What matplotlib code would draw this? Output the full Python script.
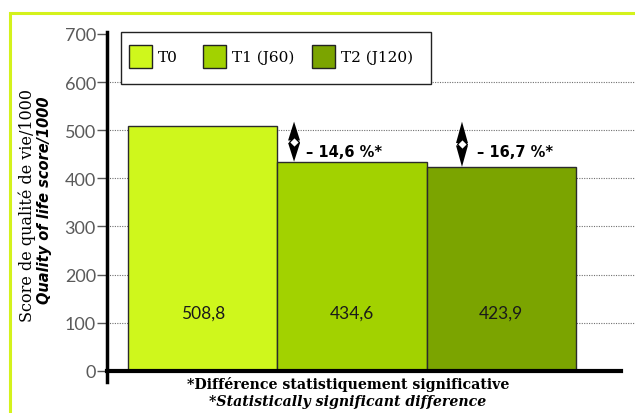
import matplotlib.pyplot as plt
from matplotlib.patches import Rectangle

# scores per visit
groups = ["T0", "T1 (J60)", "T2 (J120)"]
scores = [508.8, 434.6, 423.9]
changes = ["– 14,6 %*", "– 16,7 %*"]
yticks = [0, 100, 200, 300, 400, 500, 600, 700]
grid_levels = [100, 200, 300, 400, 500, 600]

colors = ["#cff71c", "#a2d200", "#7ba400"]
num_font = "Lato"

fig = plt.figure(figsize=(6.35, 4.14), dpi=100)
W, H = 635, 414

# lime frame (only the top and left edges fall inside the image)
fig.patches.append(Rectangle((10 / W, -0.1), 1.2, (H - 14) / H + 0.1,
                             transform=fig.transFigure, fill=False,
                             edgecolor="#d4f21c", linewidth=2.2))

ax = fig.add_axes([107 / W, 31 / H, 528 / W, 350 / H])
x = list(range(len(scores)))
ax.set_xlim(-0.641, 2.896)
ax.set_ylim(-23, 704)

ax.hlines(grid_levels, -0.641, 2.896, colors="#707070", linewidth=0.8,
          linestyles=(0, (1, 1.2)), zorder=1)
ax.bar(x, scores, width=1.0, color=colors, edgecolor="#2b2b2b",
       linewidth=1.0, zorder=3)

for xi, v in zip(x, scores):
    ax.text(xi, 122, f"{v:.1f}".replace(".", ","), ha="center", va="center",
            fontsize=12.5, family=num_font, color="#1a1a1a", zorder=4)

# double arrows showing the drop from T0
arrow_x = [0.612, 1.737]
text_x = [0.692, 1.838]
half_w = 0.04    # half width of an arrow head, in x data units
gap = 2.5        # half gap between the two heads, in y data units
for i, (arr_x, tx, label) in enumerate(zip(arrow_x, text_x, changes)):
    top = scores[0] + 9
    bottom = scores[i + 1]
    mid = (top + bottom) / 2
    ax.fill([arr_x, arr_x - half_w, arr_x + half_w],
            [top, mid + gap, mid + gap], color="black", lw=0, zorder=5)
    ax.fill([arr_x, arr_x - half_w, arr_x + half_w],
            [bottom, mid - gap, mid - gap], color="black", lw=0, zorder=5)
    ax.plot(arr_x, mid, marker="D", ms=5.5, mfc="white", mec="black",
            mew=0.9, zorder=6)
    ax.text(tx, 455, label, ha="left", va="center", fontsize=10.5,
            fontweight="bold", zorder=6)

for side in ("top", "right"):
    ax.spines[side].set_visible(False)
ax.spines["left"].set_linewidth(2.5)
ax.spines["bottom"].set_linewidth(3)
ax.spines["bottom"].set_position(("data", 0))
ax.spines["bottom"].set_bounds(-0.641, 2.802)
ax.spines["left"].set_zorder(7)
ax.spines["bottom"].set_zorder(7)

ax.set_xticks([])
ax.set_yticks(yticks)
ax.tick_params(axis="y", direction="out", length=7, width=1, color="#555555",
               labelcolor="#5a5a5a", labelsize=13, pad=1)
for lab in ax.get_yticklabels():
    lab.set_family(num_font)

# legend: framed box with square swatches
box = Rectangle((121 / W, (H - 85) / H), 310 / W, 52 / H,
                transform=fig.transFigure, facecolor="white",
                edgecolor="#222222", linewidth=1, zorder=8, clip_on=False)
ax.add_patch(box)
swatch_left = [129, 203, 312]
for left, color, name in zip(swatch_left, colors, groups):
    ax.add_patch(Rectangle((left / W, (H - 69) / H), 23 / W, 23 / H,
                           transform=fig.transFigure, facecolor=color,
                           edgecolor="#222222", linewidth=1, zorder=9,
                           clip_on=False))
    ax.text((left + 29) / W, (H - 58) / H, name, transform=fig.transFigure,
            ha="left", va="center", family="DejaVu Serif", fontsize=11,
            zorder=9)

fig.text(27 / W, (H - 206) / H, "Score de qualité de vie/1000",
         rotation=90, ha="center", va="center", family="DejaVu Serif",
         fontsize=11.5)
fig.text(45 / W, (H - 200) / H, "Quality of life score/1000",
         rotation=90, ha="center", va="center", family="DejaVu Sans",
         fontsize=10.5, fontweight="heavy", style="italic")

fig.text(348 / W, (H - 385) / H, "*Différence statistiquement significative",
         ha="center", va="center", family="DejaVu Serif", fontsize=10.2,
         fontweight="bold")
fig.text(348 / W, (H - 402) / H, "*Statistically significant difference",
         ha="center", va="center", family="DejaVu Serif", fontsize=10.2,
         fontweight="bold", style="italic")

fig.savefig("out.png", dpi=100)
